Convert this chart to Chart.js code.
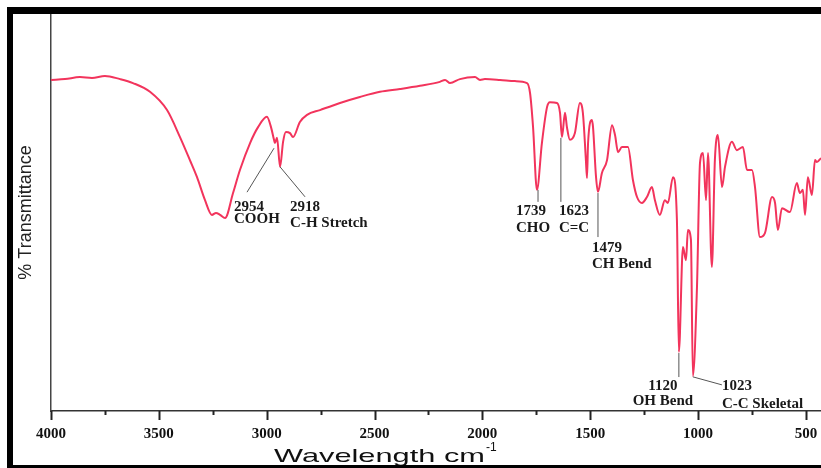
<!DOCTYPE html>
<html>
<head>
<meta charset="utf-8">
<script src="https://cdn.jsdelivr.net/npm/chart.js@4.4.1/dist/chart.umd.min.js"></script>
<style>
  html, body { margin: 0; padding: 0; background: #fff; }
  canvas { display: block; }
</style>
</head>
<body>
<canvas id="ftir" width="821" height="468"></canvas>
<script>
// spectrum (wavenumber cm-1, % transmittance)
const wavenumbers = [4000, 3935, 3866, 3810, 3750, 3680, 3620, 3541, 3462, 3402, 3356, 3323, 3286, 3254, 3235, 3216, 3193,
  3156, 3124, 3077, 3040, 2999, 2980, 2966, 2962, 2952, 2938, 2924, 2911, 2892, 2878, 2846, 2813, 2753, 2660, 2568,
  2475, 2382, 2289, 2197, 2173, 2150, 2104, 2034, 2011, 1988, 1918, 1849, 1793, 1779, 1765, 1747, 1724, 1700, 1687,
  1654, 1640, 1631, 1617, 1608, 1594, 1571, 1548, 1534, 1520, 1515, 1510, 1492, 1487, 1473, 1464, 1446, 1422, 1399,
  1385, 1371, 1353, 1325, 1302, 1283, 1260, 1237, 1214, 1200, 1177, 1154, 1140, 1116, 1098, 1089, 1070, 1056, 1047,
  1033, 1024, 1005, 991, 977, 963, 954, 936, 922, 908, 889, 875, 843, 820, 792, 773, 750, 736, 713, 690, 657, 643,
  630, 611, 574, 542, 528, 514, 504, 491, 472, 458, 449, 430];
const transmittance = [83.4, 83.6, 84.1, 83.9, 84.4, 83.6, 82.6, 80.4, 75.8, 69.0, 63.2, 58.9, 53.1, 49.4, 49.9, 49.4, 48.6,
  54.9, 60.7, 67.5, 71.5, 74.1, 71.5, 68.3, 67.5, 68.8, 61.5, 67.8, 70.3, 70.0, 69.0, 72.8, 74.6, 75.8, 77.6, 79.1,
  80.4, 81.1, 81.9, 82.9, 83.4, 82.6, 83.6, 84.1, 83.4, 83.6, 83.4, 83.1, 82.6, 80.1, 71.5, 55.7, 67.5, 76.6, 77.8,
  77.6, 75.1, 69.0, 75.1, 71.5, 68.3, 70.0, 77.6, 75.1, 63.2, 58.7, 67.5, 73.3, 71.5, 58.9, 55.2, 59.9, 63.2, 72.0,
  69.5, 65.2, 66.5, 66.5, 58.2, 53.9, 52.4, 53.9, 56.4, 53.1, 49.4, 53.1, 52.4, 58.9, 48.1, 14.9, 41.3, 38.0, 45.6,
  43.1, 8.8, 31.2, 62.5, 65.0, 53.1, 65.0, 36.3, 63.2, 69.5, 56.4, 61.5, 67.8, 65.7, 66.5, 60.7, 60.7, 56.4, 43.8, 44.8, 53.9, 52.4,
  45.6, 51.1, 50.1, 57.4, 54.9, 55.7, 49.4, 58.9, 54.4, 63.2, 62.7, 63.7];

const tickValues = [4000, 3750, 3500, 3250, 3000, 2750, 2500, 2250, 2000, 1750, 1500, 1250, 1000, 750, 500];

// peak annotations
const peakNumbers = ['2954', '2918', '1739', '1623', '1479', '1120', '1023'];
const peakNames = ['COOH', 'C-H Stretch', 'CHO', 'C=C', 'CH Bend', 'OH Bend', 'C-C Skeletal'];
const peakWn = [2966, 2938, 1742, 1636, 1464, 1089, 1024];
const peakT = [66.2, 61.5, 55.7, 68.8, 54.9, 14.6, 8.6];

// where each label sits relative to its peak (pixels)
const peakLayout = [
  { lead: [-27, 44], tx: -40, base: [63, 75], align: 'left' },
  { lead: [25, 30], tx: 10, base: [44, 60], align: 'left' },
  { lead: [0, 12], tx: -22, base: [25, 42], align: 'left' },
  { lead: [0, 64], tx: -2, base: [77, 94], align: 'left' },
  { lead: [0, 44], tx: -6, base: [59, 75], align: 'left' },
  { lead: [0, 24], tx: -16, base: [37, 52], align: 'center' },
  { lead: [29, 8], tx: 29, base: [13, 31], align: 'left' }
];

const figurePlugin = {
  id: 'figure',
  afterDraw(chart) {
    const ctx = chart.ctx;
    const xs = chart.scales.x, ys = chart.scales.y;
    const area = chart.chartArea;
    ctx.save();

    // tick marks under the axis
    ctx.strokeStyle = '#222';
    ctx.lineWidth = 2;
    tickValues.forEach(v => {
      const px = Math.round(xs.getPixelForValue(v)) + 0.5;
      const len = v % 500 === 0 ? 9 : 4;
      ctx.beginPath();
      ctx.moveTo(px, area.bottom);
      ctx.lineTo(px, area.bottom + len);
      ctx.stroke();
    });

    // peak labels
    ctx.font = 'bold 15px "Liberation Serif", "Times New Roman", serif';
    ctx.fillStyle = '#1a1a1a';
    ctx.textBaseline = 'alphabetic';
    peakWn.forEach((wn, i) => {
      const ax = xs.getPixelForValue(wn);
      const ay = ys.getPixelForValue(peakT[i]);
      const lay = peakLayout[i];
      ctx.strokeStyle = '#555';
      ctx.lineWidth = 1;
      ctx.beginPath();
      ctx.moveTo(ax, ay);
      ctx.lineTo(ax + lay.lead[0], ay + lay.lead[1]);
      ctx.stroke();
      ctx.textAlign = lay.align;
      ctx.fillText(peakNumbers[i], ax + lay.tx, ay + lay.base[0]);
      ctx.fillText(peakNames[i], ax + lay.tx, ay + lay.base[1]);
    });

    // x title, drawn wide like the original
    ctx.textAlign = 'left';
    ctx.fillStyle = '#111';
    ctx.font = '19px "Liberation Sans", Arial, sans-serif';
    const title = 'Wavelength cm';
    const w = ctx.measureText(title).width;
    const stretch = 1.62;
    ctx.save();
    ctx.translate(274, 462);
    ctx.scale(stretch, 1);
    ctx.fillText(title, 0, 0);
    ctx.restore();
    ctx.font = '12px "Liberation Sans", Arial, sans-serif';
    ctx.fillText('-1', 274 + w * stretch + 1, 451);

    // black frame
    ctx.fillStyle = '#000';
    ctx.fillRect(7, 7, 6, 461);
    ctx.fillRect(7, 7, 814, 7);
    ctx.fillRect(7, 465, 814, 3);
    ctx.restore();
  }
};

new Chart(document.getElementById('ftir'), {
  type: 'line',
  data: {
    datasets: [{
      data: wavenumbers.map((x, i) => ({ x: x, y: transmittance[i] })),
      borderColor: '#f2345c',
      borderWidth: 2,
      pointRadius: 0,
      fill: false,
      tension: 0.25,
      cubicInterpolationMode: 'monotone'
    }]
  },
  options: {
    responsive: false,
    animation: false,
    devicePixelRatio: 1,
    layout: { padding: { top: 14, left: 0, right: 0, bottom: 0 } },
    plugins: { legend: { display: false }, tooltip: { enabled: false } },
    scales: {
      x: {
        type: 'linear',
        reverse: true,
        min: 430,
        max: 4000,
        afterFit: s => { s.height = 57; s.paddingLeft = 0; s.paddingRight = 0; },
        afterBuildTicks: s => { s.ticks = tickValues.map(v => ({ value: v })); },
        grid: { display: false, drawTicks: false },
        border: { display: true, color: '#333', width: 1.5 },
        ticks: {
          autoSkip: false,
          maxRotation: 0,
          padding: 14,
          color: '#111',
          font: { family: '"Liberation Serif", "Times New Roman", serif', size: 15, weight: 'bold' },
          callback: v => (v % 500 === 0 ? String(v) : '')
        }
      },
      y: {
        min: 0,
        max: 100,
        afterFit: s => { s.width = 51; },
        grid: { display: false },
        border: { display: true, color: '#444', width: 1.5 },
        ticks: { display: false },
        title: {
          display: true,
          text: '% Transmittance',
          color: '#222',
          padding: { top: 15, bottom: 0 },
          font: { family: '"Liberation Sans", Arial, sans-serif', size: 18 }
        }
      }
    }
  },
  plugins: [figurePlugin]
});
</script>
</body>
</html>
